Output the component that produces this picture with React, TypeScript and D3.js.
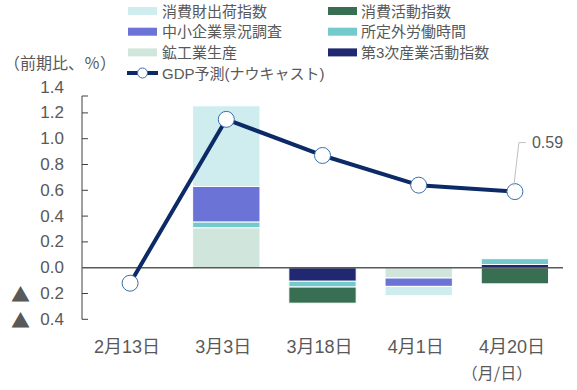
import React from "react";
import * as d3 from "d3";

const categories = ["2月13日", "3月3日", "3月18日", "4月1日", "4月20日"];

const seriesNames = [
  "第3次産業活動指数",
  "鉱工業生産",
  "所定外労働時間",
  "中小企業景況調査",
  "消費財出荷指数",
  "消費活動指数",
];

const dai3ji = [0, 0, -0.105, 0, 0.025];
const kokogyo = [0, 0.31, 0, -0.08, 0];
const shoteigai = [0, 0.045, -0.045, 0, 0.045];
const chusho = [0, 0.275, 0, -0.065, 0];
const shohizai = [0, 0.625, 0, -0.072, 0];
const shohikatsudo = [0, 0, -0.125, 0, -0.125];

const gdpNowcast = [-0.12, 1.15, 0.87, 0.64, 0.59];

const yTicks = [-0.4, -0.2, 0, 0.2, 0.4, 0.6, 0.8, 1.0, 1.2, 1.4];

const colors: Record<string, string> = {
  "第3次産業活動指数": "#1f2870",
  "鉱工業生産": "#d0e6dc",
  "所定外労働時間": "#73c9cc",
  "中小企業景況調査": "#6b73d6",
  "消費財出荷指数": "#cfecef",
  "消費活動指数": "#386e52",
};

const legendLeft = ["消費財出荷指数", "中小企業景況調査", "鉱工業生産"];
const legendRight = ["消費活動指数", "所定外労働時間", "第3次産業活動指数"];

const W = 577;
const H = 390;
const left = 82;
const right = 563;
const FONT = "'Liberation Sans', 'Noto Sans CJK JP', sans-serif";
const TXT = "#595959";

export default function App() {
  const x = d3.scaleBand<string>().domain(categories).range([left, right]).paddingInner(0.3).paddingOuter(0.15);
  const y = d3.scaleLinear().domain([-0.4, 1.4]).range([319.3, 87.1]);

  const values: Record<string, number[]> = {
    "第3次産業活動指数": dai3ji,
    "鉱工業生産": kokogyo,
    "所定外労働時間": shoteigai,
    "中小企業景況調査": chusho,
    "消費財出荷指数": shohizai,
    "消費活動指数": shohikatsudo,
  };
  const rows = categories.map((c, i) => {
    const r: any = { cat: c };
    seriesNames.forEach((s) => (r[s] = values[s][i]));
    return r;
  });
  const stacked = d3.stack<any>().keys(seriesNames).offset(d3.stackOffsetDiverging)(rows);

  const cx = (c: string) => (x(c) as number) + x.bandwidth() / 2;
  const line = d3
    .line<number>()
    .x((_, i) => cx(categories[i]))
    .y((v) => y(v));

  const lastI = gdpNowcast.length - 1;
  const lx = cx(categories[lastI]);
  const ly = y(gdpNowcast[lastI]);

  return (
    <svg width={W} height={H} style={{ position: "absolute", left: 0, top: 0, background: "#fff" }} fontFamily={FONT}>
      {/* legend */}
      {legendLeft.map((s, i) => (
        <g key={s}>
          <rect x={128} y={11 + i * 20.7 - 4} width={29} height={8} fill={colors[s]} />
          <text x={162} y={11 + i * 20.7} dominantBaseline="central" fontSize={15} fill={TXT}>
            {s}
          </text>
        </g>
      ))}
      {legendRight.map((s, i) => (
        <g key={s}>
          <rect x={328} y={11 + i * 20.7 - 4} width={29} height={8} fill={colors[s]} />
          <text x={361} y={11 + i * 20.7} dominantBaseline="central" fontSize={15} fill={TXT}>
            {s}
          </text>
        </g>
      ))}
      <g>
        <line x1={127} x2={158} y1={73} y2={73} stroke="#0c2a66" strokeWidth={4} />
        <circle cx={142.5} cy={73} r={5} fill="#fff" stroke="#3a6ea5" strokeWidth={1} />
        <text x={162} y={73} dominantBaseline="central" fontSize={15} fill={TXT}>
          GDP予測(ナウキャスト)
        </text>
      </g>
      <text x={4} y={62} dominantBaseline="central" fontSize={16} fill={TXT} fontFamily="'Noto Sans CJK JP', sans-serif">
        （前期比、％）
      </text>

      {/* bars */}
      {stacked.map((layer) =>
        layer.map((d, i) => {
          if (d[1] - d[0] === 0) return null;
          const y0 = y(d[0]);
          const y1 = y(d[1]);
          return (
            <rect
              key={layer.key + i}
              x={x(categories[i])}
              width={x.bandwidth()}
              y={Math.min(y0, y1)}
              height={Math.abs(y0 - y1)}
              fill={colors[layer.key]}
              stroke="#fff"
              strokeWidth={1}
            />
          );
        })
      )}

      {/* y axis */}
      <line x1={left} x2={left} y1={96} y2={y(-0.4)} stroke="#404040" strokeWidth={1} />
      <line x1={left} x2={left + 6} y1={96} y2={96} stroke="#404040" strokeWidth={1} />
      {yTicks.map((t) => (
        <g key={t}>
          {t !== 1.4 && t !== 0 && (
            <line x1={left} x2={left + 6} y1={y(t)} y2={y(t)} stroke="#404040" strokeWidth={1} />
          )}
          <text x={64} y={y(t)} textAnchor="end" dominantBaseline="central" fontSize={17} fill={TXT}>
            {Math.abs(t).toFixed(1)}
          </text>
          {t < 0 && (
            <text x={11} y={y(t)} dominantBaseline="central" fontSize={19} fill={TXT} fontFamily="'Noto Sans CJK JP', sans-serif">
              ▲
            </text>
          )}
        </g>
      ))}
      <line x1={left} x2={right} y1={y(0)} y2={y(0)} stroke="#595959" strokeWidth={1.5} />

      {/* line */}
      <path d={line(gdpNowcast) || ""} fill="none" stroke="#0c2a66" strokeWidth={4} strokeLinejoin="round" />
      {gdpNowcast.map((v, i) => (
        <circle key={i} cx={cx(categories[i])} cy={y(v)} r={8} fill="#fff" stroke="#3a6ea5" strokeWidth={1} />
      ))}

      {/* annotation */}
      <polyline
        points={`${lx - 1},${ly - 6} ${lx + 4},${ly - 49} ${lx + 11},${ly - 49}`}
        fill="none"
        stroke="#bfbfbf"
        strokeWidth={1}
      />
      <text x={lx + 17} y={ly - 49} dominantBaseline="central" fontSize={16} fill={TXT}>
        {gdpNowcast[lastI].toFixed(2)}
      </text>

      {/* x labels */}
      {categories.map((c) => (
        <text key={c} x={cx(c) - 3} y={347} textAnchor="middle" dominantBaseline="central" fontSize={18} fill={TXT}>
          {c}
        </text>
      ))}
      <text x={497} y={372} textAnchor="middle" dominantBaseline="central" fontSize={16} fill={TXT} fontFamily="'Noto Sans CJK JP', sans-serif">
        （月/日）
      </text>
    </svg>
  );
}
